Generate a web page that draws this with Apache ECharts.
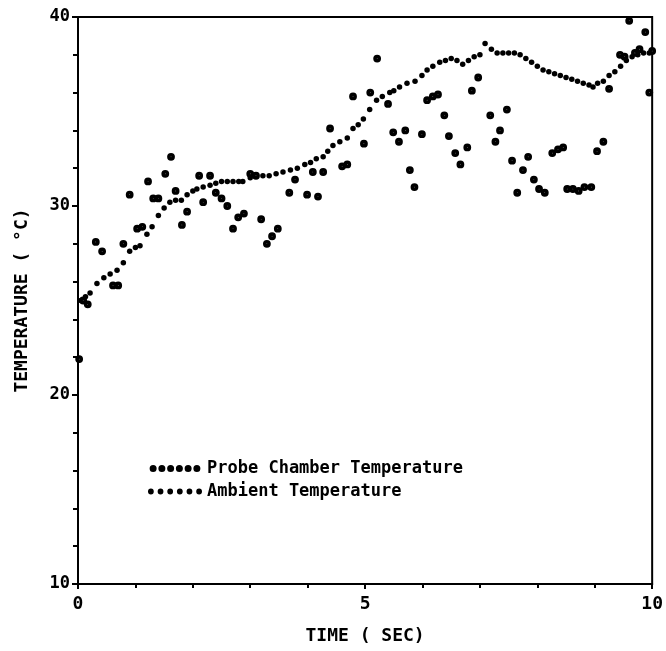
<!DOCTYPE html>
<html>
<head>
<meta charset="utf-8">
<script src="https://cdn.jsdelivr.net/npm/echarts@6/dist/echarts.min.js"></script>
<style>
  html, body { margin: 0; padding: 0; background: #ffffff; }
  #chart { width: 666px; height: 651px; }
</style>
</head>
<body>
<div id="chart"></div>
<script>
// Probe chamber temperature readings: [time (s), temperature (°C)]
const probeTemps = [
  [0.02, 21.9], [0.09, 25.0], [0.17, 24.8], [0.31, 28.1], [0.42, 27.6],
  [0.61, 25.8], [0.70, 25.8], [0.79, 28.0], [0.90, 30.6], [1.03, 28.8],
  [1.12, 28.9], [1.22, 31.3], [1.31, 30.4], [1.40, 30.4], [1.52, 31.7],
  [1.62, 32.6], [1.70, 30.8], [1.81, 29.0], [1.90, 29.7], [2.11, 31.6],
  [2.18, 30.2], [2.30, 31.6], [2.40, 30.7], [2.50, 30.4], [2.60, 30.0],
  [2.70, 28.8], [2.79, 29.4], [2.89, 29.6], [3.00, 31.7], [3.10, 31.6],
  [3.19, 29.3], [3.29, 28.0], [3.38, 28.4], [3.48, 28.8], [3.68, 30.7],
  [3.78, 31.4], [3.99, 30.6], [4.09, 31.8], [4.18, 30.5], [4.27, 31.8],
  [4.39, 34.1], [4.60, 32.1], [4.69, 32.2], [4.79, 35.8], [4.98, 33.3],
  [5.09, 36.0], [5.21, 37.8], [5.40, 35.4], [5.49, 33.9], [5.59, 33.4],
  [5.70, 34.0], [5.78, 31.9], [5.86, 31.0], [5.99, 33.8], [6.08, 35.6],
  [6.18, 35.8], [6.27, 35.9], [6.38, 34.8], [6.46, 33.7], [6.57, 32.8],
  [6.66, 32.2], [6.78, 33.1], [6.86, 36.1], [6.97, 36.8], [7.18, 34.8],
  [7.27, 33.4], [7.35, 34.0], [7.47, 35.1], [7.56, 32.4], [7.65, 30.7],
  [7.75, 31.9], [7.84, 32.6], [7.94, 31.4], [8.03, 30.9], [8.13, 30.7],
  [8.26, 32.8], [8.36, 33.0], [8.45, 33.1], [8.52, 30.9], [8.62, 30.9],
  [8.72, 30.8], [8.82, 31.0], [8.94, 31.0], [9.04, 32.9], [9.15, 33.4],
  [9.25, 36.2], [9.44, 38.0], [9.52, 37.9], [9.60, 39.8], [9.70, 38.1],
  [9.78, 38.3], [9.88, 39.2], [9.95, 36.0], [10.0, 38.2]
];

// Ambient temperature readings: [time (s), temperature (°C)]
const ambientTemps = [
  [0.05, 25.0], [0.13, 25.2], [0.21, 25.4], [0.33, 25.9], [0.45, 26.2],
  [0.56, 26.4], [0.68, 26.6], [0.79, 27.0], [0.90, 27.6], [1.00, 27.8],
  [1.08, 27.9], [1.20, 28.5], [1.29, 28.9], [1.40, 29.5], [1.50, 29.9],
  [1.60, 30.2], [1.70, 30.3], [1.80, 30.3], [1.90, 30.6], [2.00, 30.8],
  [2.07, 30.9], [2.18, 31.0], [2.30, 31.1], [2.40, 31.2], [2.50, 31.3],
  [2.60, 31.3], [2.70, 31.3], [2.80, 31.3], [2.87, 31.3], [3.00, 31.5],
  [3.10, 31.6], [3.22, 31.6], [3.33, 31.6], [3.45, 31.7], [3.57, 31.8],
  [3.70, 31.9], [3.82, 32.0], [3.95, 32.2], [4.05, 32.3], [4.15, 32.5],
  [4.27, 32.6], [4.35, 32.9], [4.44, 33.2], [4.56, 33.4], [4.69, 33.6],
  [4.79, 34.1], [4.88, 34.3], [4.97, 34.6], [5.08, 35.1], [5.20, 35.6],
  [5.30, 35.8], [5.43, 36.0], [5.50, 36.1], [5.60, 36.3], [5.73, 36.5],
  [5.87, 36.6], [5.99, 36.9], [6.08, 37.2], [6.18, 37.4], [6.30, 37.6],
  [6.40, 37.7], [6.50, 37.8], [6.60, 37.7], [6.70, 37.5], [6.80, 37.7],
  [6.90, 37.9], [7.00, 38.0], [7.09, 38.6], [7.20, 38.3], [7.30, 38.1],
  [7.40, 38.1], [7.50, 38.1], [7.60, 38.1], [7.70, 38.0], [7.80, 37.8],
  [7.90, 37.6], [8.00, 37.4], [8.10, 37.2], [8.20, 37.1], [8.30, 37.0],
  [8.40, 36.9], [8.50, 36.8], [8.60, 36.7], [8.70, 36.6], [8.80, 36.5],
  [8.90, 36.4], [8.97, 36.3], [9.05, 36.5], [9.15, 36.6], [9.25, 36.9],
  [9.35, 37.1], [9.45, 37.4], [9.55, 37.7], [9.65, 37.9], [9.75, 38.0],
  [9.85, 38.1], [9.95, 38.1], [10.0, 38.2]
];

const xTicks = [0, 5, 10];
const yTicks = [10, 20, 30, 40];
const seriesNames = ['Probe Chamber Temperature', 'Ambient Temperature'];

// A row of dots used as the legend key for each series
function dotRow(n, r, step) {
  let d = '';
  for (let i = 0; i < n; i++) {
    const cx = r + i * step;
    d += 'M' + (cx - r) + ',' + r + ' a' + r + ',' + r + ' 0 1,0 ' + (2 * r) + ',0 a' + r + ',' + r + ' 0 1,0 ' + (-2 * r) + ',0 ';
  }
  return 'path://' + d;
}

const ink = '#000000';
const plotFont = 'DejaVu Sans Mono';

const chart = echarts.init(document.getElementById('chart'), null, { renderer: 'canvas' });

chart.setOption({
  backgroundColor: '#ffffff',
  animation: false,
  grid: {
    left: 78, right: 13, top: 17, bottom: 67,
    show: true, borderColor: ink, borderWidth: 2, backgroundColor: 'transparent'
  },
  legend: {
    orient: 'vertical',
    left: 143, top: 455,
    itemGap: 6,
    itemWidth: 54, itemHeight: 7,
    data: [
      { name: seriesNames[0], icon: dotRow(6, 4, 10), itemStyle: { color: ink, borderWidth: 0 } },
      { name: seriesNames[1], icon: dotRow(6, 3, 10) }
    ],
    textStyle: { fontFamily: plotFont, fontWeight: 'bold', fontSize: 17, color: ink, padding: [0, 0, 0, 0] }
  },
  xAxis: {
    type: 'value',
    min: xTicks[0], max: xTicks[xTicks.length - 1], interval: 5,
    name: 'TIME ( SEC)', nameLocation: 'middle', nameGap: 43,
    nameTextStyle: { fontFamily: plotFont, fontWeight: 'bold', fontSize: 18, color: ink },
    axisLine: { show: true, lineStyle: { color: ink, width: 2 } },
    axisTick: { show: true, length: 5, lineStyle: { color: ink, width: 2 } },
    minorTick: { show: true, splitNumber: 5, length: 4, lineStyle: { color: ink, width: 2 } },
    splitLine: { show: false },
    axisLabel: { fontFamily: plotFont, fontWeight: 'bold', fontSize: 18, color: ink, margin: 11 }
  },
  yAxis: {
    type: 'value',
    min: yTicks[0], max: yTicks[yTicks.length - 1], interval: 10,
    name: 'TEMPERATURE ( °C)', nameLocation: 'middle', nameGap: 47,
    nameTextStyle: { fontFamily: plotFont, fontWeight: 'bold', fontSize: 18, color: ink },
    axisLine: { show: true, lineStyle: { color: ink, width: 2 } },
    axisTick: { show: true, length: 6, lineStyle: { color: ink, width: 2 } },
    minorTick: { show: true, splitNumber: 5, length: 5, lineStyle: { color: ink, width: 2 } },
    splitLine: { show: false },
    axisLabel: { fontFamily: plotFont, fontWeight: 'bold', fontSize: 17, color: ink, margin: 8 }
  },
  series: [
    {
      name: seriesNames[0],
      type: 'scatter',
      data: probeTemps,
      symbol: 'circle',
      symbolSize: 4.2,
      itemStyle: { color: '#ffffff', borderColor: ink, borderWidth: 3.6, opacity: 1 },
      z: 3
    },
    {
      name: seriesNames[1],
      type: 'scatter',
      data: ambientTemps,
      symbol: 'circle',
      symbolSize: 5.5,
      itemStyle: { color: ink, opacity: 1 },
      z: 2
    }
  ]
});
</script>
</body>
</html>
